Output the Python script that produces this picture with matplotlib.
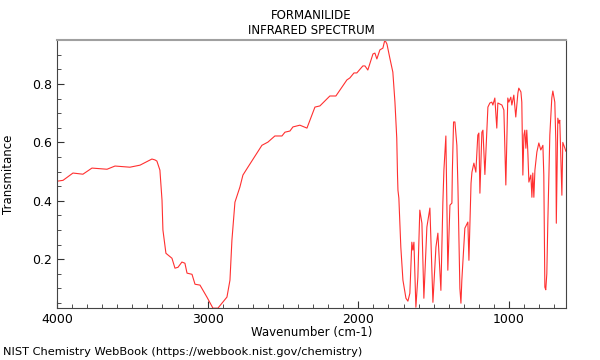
import numpy as np
import matplotlib.pyplot as plt
from matplotlib.ticker import MultipleLocator

# spectrum (wavenumber cm-1, transmittance)
wavenumber = [4000, 3960, 3894, 3828, 3768, 3668, 3615, 3516, 3449, 3370,
              3350, 3337, 3317, 3303, 3297, 3277, 3237, 3217, 3197, 3171,
              3151, 3137, 3104, 3084, 3051, 3005, 2965, 2932, 2872, 2852,
              2839, 2819, 2786, 2766, 2733, 2640, 2600, 2554, 2507, 2487,
              2454, 2434, 2388, 2341, 2288, 2255, 2189, 2149, 2076, 2056,
              2029, 2010, 1970, 1956, 1937, 1903, 1890, 1877, 1857, 1837,
              1824, 1810, 1791, 1771, 1757, 1745, 1740, 1737, 1731, 1718,
              1704, 1684, 1671, 1658, 1645, 1638, 1631, 1618, 1605, 1592,
              1578, 1565, 1545, 1525, 1505, 1485, 1472, 1452, 1439, 1432,
              1419, 1406, 1392, 1379, 1376, 1368, 1359, 1346, 1339, 1326,
              1319, 1313, 1293, 1273, 1266, 1252, 1246, 1233, 1220, 1207,
              1200, 1193, 1180, 1173, 1160, 1140, 1127, 1114, 1107, 1094,
              1081, 1074, 1047, 1034, 1021, 1008, 1001, 988, 981, 968,
              955, 941, 935, 921, 915, 908, 901, 895, 888, 882,
              875, 868, 855, 848, 842, 835, 828, 815, 802, 789,
              775, 769, 762, 756, 749, 742, 729, 716, 709, 696,
              689, 686, 683, 676, 669, 663, 649, 643, 629, 623]
transmittance = [0.467, 0.470, 0.495, 0.491, 0.512, 0.508, 0.519, 0.515, 0.522, 0.543,
                 0.540, 0.536, 0.505, 0.402, 0.300, 0.220, 0.203, 0.169, 0.172, 0.190,
                 0.186, 0.152, 0.148, 0.114, 0.111, 0.070, 0.032, 0.032, 0.070, 0.128,
                 0.265, 0.395, 0.447, 0.488, 0.515, 0.590, 0.601, 0.622, 0.622, 0.635,
                 0.639, 0.653, 0.659, 0.649, 0.721, 0.725, 0.759, 0.759, 0.814, 0.821,
                 0.838, 0.838, 0.862, 0.862, 0.848, 0.903, 0.906, 0.886, 0.917, 0.923,
                 0.951, 0.937, 0.889, 0.841, 0.738, 0.615, 0.488, 0.436, 0.409, 0.241,
                 0.128, 0.066, 0.056, 0.083, 0.258, 0.231, 0.258, 0.035, 0.138, 0.368,
                 0.323, 0.066, 0.310, 0.375, 0.052, 0.241, 0.289, 0.093, 0.392, 0.505,
                 0.622, 0.162, 0.385, 0.392, 0.500, 0.670, 0.670, 0.590, 0.450, 0.100,
                 0.049, 0.128, 0.306, 0.327, 0.196, 0.460, 0.498, 0.529, 0.498, 0.625,
                 0.632, 0.426, 0.635, 0.642, 0.490, 0.721, 0.735, 0.738, 0.728, 0.752,
                 0.649, 0.735, 0.728, 0.711, 0.454, 0.752, 0.738, 0.755, 0.728, 0.762,
                 0.687, 0.769, 0.786, 0.773, 0.738, 0.488, 0.625, 0.642, 0.580, 0.642,
                 0.567, 0.464, 0.488, 0.412, 0.495, 0.412, 0.505, 0.567, 0.598, 0.574,
                 0.590, 0.488, 0.104, 0.095, 0.150, 0.334, 0.625, 0.752, 0.776, 0.738,
                 0.600, 0.323, 0.436, 0.683, 0.666, 0.676, 0.419, 0.600, 0.580, 0.570]

fig = plt.figure(figsize=(6, 3.6), dpi=100)
ax = fig.add_axes([0.095, 0.144, 0.848, 0.745])

ax.plot(wavenumber, transmittance, color='#ff3030', lw=0.8)

ax.set_xlim(4000, 623)
ax.set_ylim(min(transmittance), max(transmittance))

ax.xaxis.set_major_locator(MultipleLocator(1000))
ax.xaxis.set_minor_locator(MultipleLocator(100))
ax.yaxis.set_major_locator(MultipleLocator(0.2))
ax.yaxis.set_minor_locator(MultipleLocator(0.05))
ax.tick_params(which='both', direction='in', labelsize=9, color='#333333')
ax.tick_params(which='major', length=5)
ax.tick_params(which='minor', length=3)
ax.set_xticks([4000, 3000, 2000, 1000])
ax.set_xticklabels(['4000', '3000', '2000', '1000'])
ax.set_yticks([0.2, 0.4, 0.6, 0.8])
ax.set_yticklabels(['0.2', '0.4', '0.6', '0.8'])

ax.spines['top'].set_color('#a0a0a0')
ax.spines['top'].set_linewidth(1.5)
for s in ['left', 'bottom', 'right']:
    ax.spines[s].set_color('#444444')

ax.set_xlabel('Wavenumber (cm-1)', fontsize=8.5, labelpad=0)
ax.set_ylabel('Transmitance', fontsize=8.5)
ax.yaxis.set_label_coords(-0.083, 0.5)
ax.set_title('FORMANILIDE\nINFRARED SPECTRUM', fontsize=8.5, pad=4)

fig.text(0.005, 0.022, 'NIST Chemistry WebBook (https://webbook.nist.gov/chemistry)',
         fontsize=8.2, va='center')

fig.savefig('out.png', dpi=100)
